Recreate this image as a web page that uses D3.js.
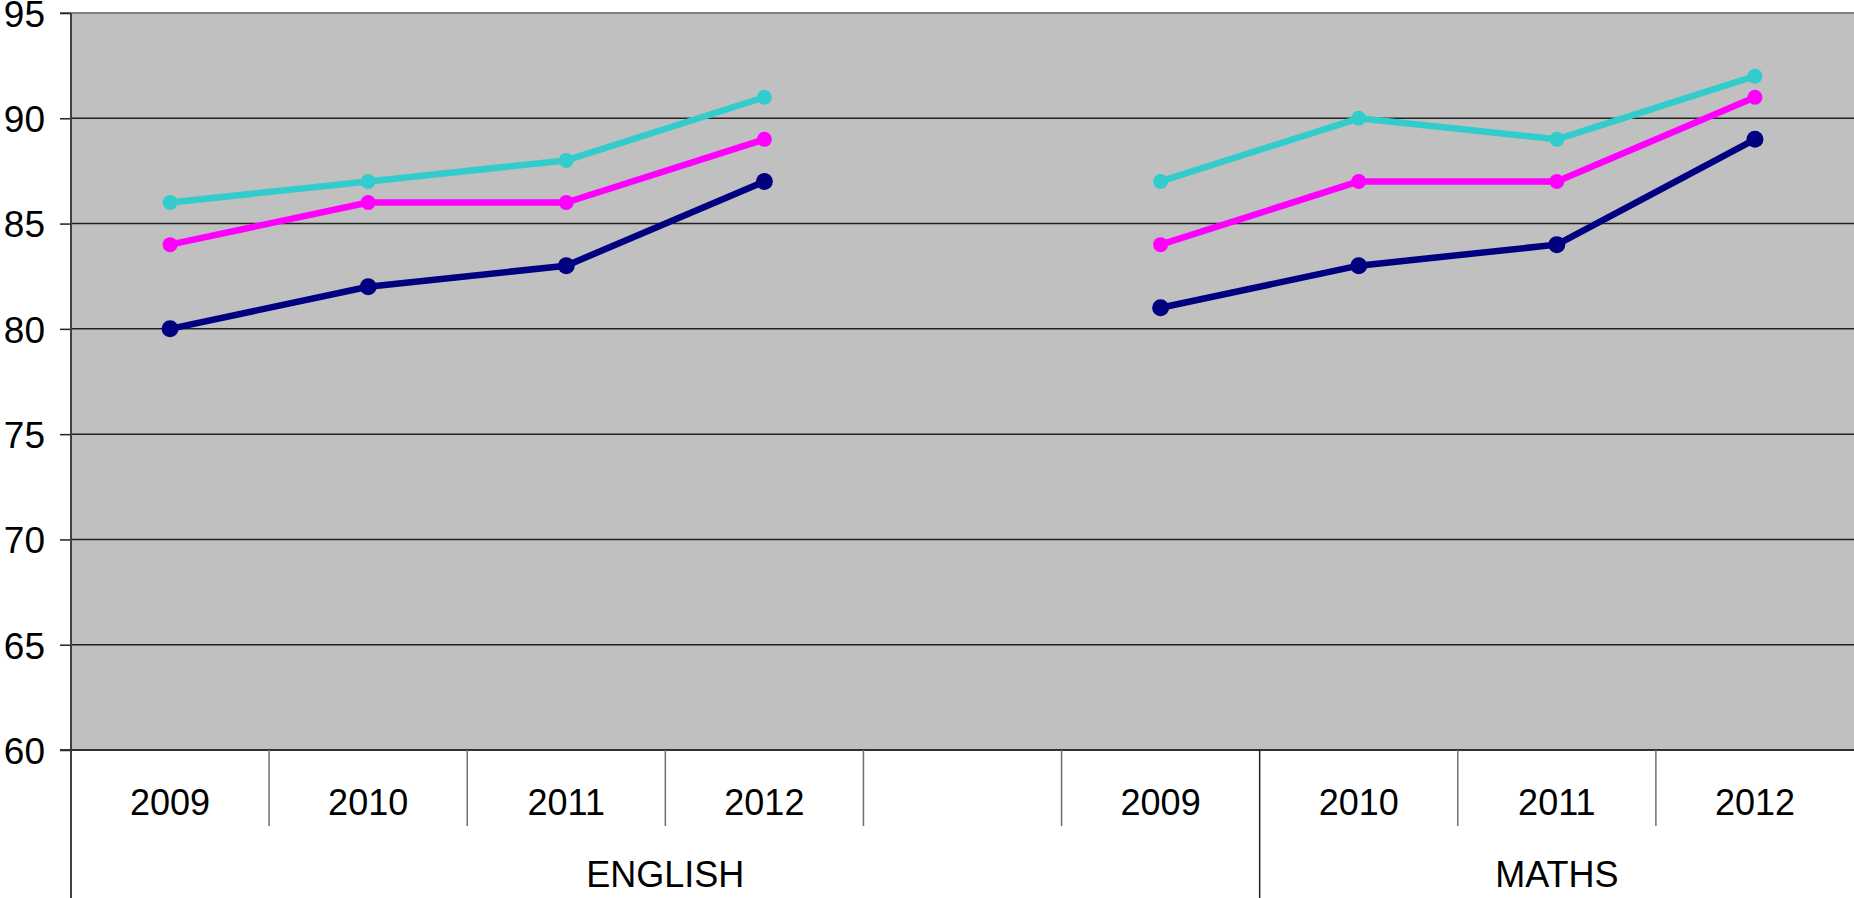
<!DOCTYPE html>
<html><head><meta charset="utf-8">
<script src="https://cdn.jsdelivr.net/npm/d3@7"></script>
<style>html,body{margin:0;padding:0;background:#fff;}svg{display:block;}</style>
</head><body>
<svg id="c" width="1854" height="898"></svg>
<script>
const years = ["2009","2010","2011","2012","","2009","2010","2011","2012"];
const groups = [{name:"ENGLISH", from:0, to:5}, {name:"MATHS", from:6, to:8}];
const yTicks = [60,65,70,75,80,85,90,95];
const seriesCyan    = [86,87,88,91,null,87,90,89,92];
const seriesMagenta = [84,86,86,89,null,84,87,87,91];
const seriesNavy    = [80,82,83,87,null,81,83,84,89];
const series = [
  {values: seriesCyan, color:"#33CCCC", r:7.5},
  {values: seriesMagenta, color:"#FF00FF", r:7.5},
  {values: seriesNavy, color:"#000080", r:8.5}
];

const svg = d3.select("#c");
const L = 71, R = 1854, T = 13, B = 750, H = 898;
const x = d3.scaleBand().domain(d3.range(years.length)).range([L, R]).padding(0);
const y = d3.scaleLinear().domain([60,95]).range([B, T]);
const FONT = "Liberation Sans, Arial, sans-serif";

svg.append("rect").attr("x",L).attr("y",T).attr("width",R-L).attr("height",B-T).attr("fill","#C0C0C0");

// gridlines
svg.append("g").selectAll("line").data(yTicks.filter(v=>v>60 && v<95)).join("line")
  .attr("x1",L).attr("x2",R).attr("y1",d=>y(d)).attr("y2",d=>y(d))
  .attr("stroke","#222").attr("stroke-width",1.5);
// top border
svg.append("line").attr("x1",60).attr("x2",R).attr("y1",T).attr("y2",T).attr("stroke","#808080").attr("stroke-width",2);

// y axis
const yAxis = d3.axisLeft(y).tickValues(yTicks).tickSize(11).tickPadding(15);
const ga = svg.append("g").attr("transform",`translate(${L},0)`).call(yAxis);
ga.select(".domain").remove();
ga.selectAll(".tick line").attr("stroke","#222").attr("stroke-width",1.5);
ga.selectAll(".tick text").attr("font-family",FONT).attr("font-size",37).attr("fill","#000").attr("dy","0.36em");

// left axis line
svg.append("line").attr("x1",L).attr("x2",L).attr("y1",T).attr("y2",H).attr("stroke","#404040").attr("stroke-width",2);
// bottom axis line
svg.append("line").attr("x1",60).attr("x2",R).attr("y1",B).attr("y2",B).attr("stroke","#303030").attr("stroke-width",2);

// category ticks (short)
const bounds = d3.range(1, years.length).map(i => x(i));
const groupBounds = groups.slice(1).map(g => x(g.from));
svg.append("g").selectAll("line").data(bounds.filter(b => !groupBounds.includes(b))).join("line")
  .attr("x1",d=>d).attr("x2",d=>d).attr("y1",B).attr("y2",826)
  .attr("stroke","#707070").attr("stroke-width",1.5);
svg.append("g").selectAll("line").data(groupBounds).join("line")
  .attr("x1",d=>d).attr("x2",d=>d).attr("y1",B).attr("y2",H)
  .attr("stroke","#202020").attr("stroke-width",1.5);

// year labels
svg.append("g").selectAll("text").data(years.map((t,i)=>({t,i}))).join("text")
  .attr("x",d=>x(d.i)+x.bandwidth()/2).attr("y",802).attr("dy","0.36em")
  .attr("text-anchor","middle").attr("font-family",FONT).attr("font-size",36)
  .text(d=>d.t);
// group labels
svg.append("g").selectAll("text").data(groups).join("text")
  .attr("x",d=>(x(d.from)+x(d.to)+x.bandwidth())/2).attr("y",874).attr("dy","0.36em")
  .attr("text-anchor","middle").attr("font-family",FONT).attr("font-size",36)
  .text(d=>d.name);

// series
const line = d3.line().defined(d=>d.v!=null).x(d=>x(d.i)+x.bandwidth()/2).y(d=>y(d.v));
series.forEach(s => {
  const pts = s.values.map((v,i)=>({v,i}));
  svg.append("path").datum(pts).attr("d",line).attr("fill","none").attr("stroke",s.color).attr("stroke-width",6.5).attr("stroke-linejoin","round");
  svg.append("g").selectAll("circle").data(pts.filter(d=>d.v!=null)).join("circle")
    .attr("cx",d=>x(d.i)+x.bandwidth()/2).attr("cy",d=>y(d.v)).attr("r",s.r).attr("fill",s.color);
});
</script>
</body></html>
